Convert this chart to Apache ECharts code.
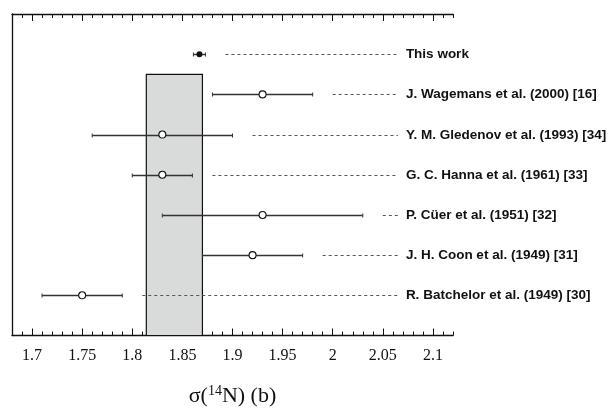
<!DOCTYPE html>
<html>
<head>
<meta charset="utf-8">
<script src="https://cdn.jsdelivr.net/npm/echarts@6/dist/echarts.min.js"></script>
<style>
  html, body { margin: 0; padding: 0; background: #fff; }
  #chart { width: 611px; height: 412px; }
</style>
</head>
<body>
<div id="chart"></div>
<script>
// Thermal-neutron cross-section measurements, top row first
const labels = [
  'This work',
  'J. Wagemans et al. (2000) [16]',
  'Y. M. Gledenov et al. (1993) [34]',
  'G. C. Hanna et al. (1961) [33]',
  'P. Cüer et al. (1951) [32]',
  'J. H. Coon et al. (1949) [31]',
  'R. Batchelor et al. (1949) [30]'
];
const values = [1.867, 1.93, 1.83, 1.83, 1.93, 1.92, 1.75];
const errors = [0.006, 0.05, 0.07, 0.03, 0.10, 0.05, 0.04];
const rows = [7, 6, 5, 4, 3, 2, 1];

// Shaded band (evaluated value range)
const bandLow = 1.814;
const bandHigh = 1.870;
const bandTop = 6.5;

const tickValues = [1.7, 1.75, 1.8, 1.85, 1.9, 1.95, 2, 2.05, 2.1];
const xMin = 1.68;
const xMax = 2.12;
const leaderEnd = 2.065;

const minorTicks = [];
for (let i = 0; i <= 44; i++) minorTicks.push(Math.round((xMin + i * 0.01) * 100) / 100);

const ink = '#111';

function xAxisDef(position, ticks, len, showLine, showLabels) {
  return {
    type: 'value', position: position, min: xMin, max: xMax,
    axisLine: { show: showLine, onZero: false, lineStyle: { color: ink, width: 1.3 } },
    axisTick: { show: true, inside: true, length: len, customValues: ticks, lineStyle: { color: ink, width: 1 } },
    axisLabel: showLabels ? {
      show: true, customValues: tickValues, margin: 12,
      fontFamily: 'Liberation Serif', fontSize: 16, color: ink
    } : { show: false },
    splitLine: { show: false }
  };
}

const bottomMajor = xAxisDef('bottom', tickValues, 7, true, true);
bottomMajor.name = '{t|σ(}{s|14}{t|N) (b)}';
bottomMajor.nameLocation = 'middle';
bottomMajor.nameGap = 49;
bottomMajor.nameTextStyle = {
  rich: {
    t: { fontFamily: 'Liberation Serif', fontSize: 22, color: ink },
    s: { fontFamily: 'Liberation Serif', fontSize: 14, color: ink, padding: [0, 0, 9, 0] }
  }
};

const pointData = values.map((v, i) => [v, rows[i], errors[i], labels[i]]);

const chart = echarts.init(document.getElementById('chart'), null, { renderer: 'canvas' });
chart.setOption({
  animation: false,
  backgroundColor: '#fff',
  grid: { left: 12, right: 158, top: 14, bottom: 59 },
  xAxis: [
    bottomMajor,
    xAxisDef('bottom', minorTicks, 4, false, false),
    xAxisDef('top', tickValues, 7, true, false),
    xAxisDef('top', minorTicks, 4, false, false)
  ],
  yAxis: {
    type: 'value', min: 0, max: 8,
    axisLine: { show: true, lineStyle: { color: ink, width: 1.3 } },
    axisTick: { show: false }, axisLabel: { show: false }, splitLine: { show: false }
  },
  series: [
    {
      // shaded band
      type: 'custom', xAxisIndex: 0, z: 1,
      data: [[bandLow, bandHigh, bandTop]],
      renderItem: function (params, api) {
        const p0 = api.coord([api.value(0), api.value(2)]);
        const p1 = api.coord([api.value(1), 0]);
        return {
          type: 'rect',
          shape: { x: p0[0], y: p0[1], width: p1[0] - p0[0], height: p1[1] - p0[1] },
          style: { fill: '#d9dbdb', stroke: ink, lineWidth: 1.2 }
        };
      }
    },
    {
      // error bars, leader lines and labels
      type: 'custom', xAxisIndex: 0, z: 2,
      data: pointData,
      renderItem: function (params, api) {
        const v = api.value(0), y = api.value(1), e = api.value(2);
        const lo = api.coord([v - e, y]);
        const hi = api.coord([v + e, y]);
        const end = api.coord([leaderEnd, y]);
        const label = pointData[params.dataIndex][3];
        const yy = Math.round(lo[1]) + 0.5;
        return {
          type: 'group',
          children: [
            { type: 'line', shape: { x1: lo[0], y1: yy, x2: hi[0], y2: yy }, style: { stroke: '#333', lineWidth: 1.4 } },
            { type: 'line', shape: { x1: lo[0], y1: yy - 2, x2: lo[0], y2: yy + 2 }, style: { stroke: '#333', lineWidth: 1 } },
            { type: 'line', shape: { x1: hi[0], y1: yy - 2, x2: hi[0], y2: yy + 2 }, style: { stroke: '#333', lineWidth: 1 } },
            { type: 'line', shape: { x1: hi[0] + 20, y1: yy, x2: end[0], y2: yy }, style: { stroke: '#555', lineWidth: 1, lineDash: [3, 3] } },
            { type: 'text', x: end[0] + 8, y: yy, style: {
                text: label, fill: ink, font: 'bold 13.5px "Liberation Sans", Arial, sans-serif',
                textAlign: 'left', textVerticalAlign: 'middle'
              } }
          ]
        };
      }
    },
    {
      // literature values
      type: 'scatter', xAxisIndex: 0, z: 3,
      symbol: 'circle', symbolSize: 7,
      itemStyle: { color: '#fff', borderColor: ink, borderWidth: 1.1, opacity: 1 },
      data: pointData.slice(1).map(d => [d[0], d[1]])
    },
    {
      // present result
      type: 'scatter', xAxisIndex: 0, z: 3,
      symbol: 'circle', symbolSize: 6,
      itemStyle: { color: ink, opacity: 1 },
      data: [[pointData[0][0], pointData[0][1]]]
    }
  ]
});
</script>
</body>
</html>
